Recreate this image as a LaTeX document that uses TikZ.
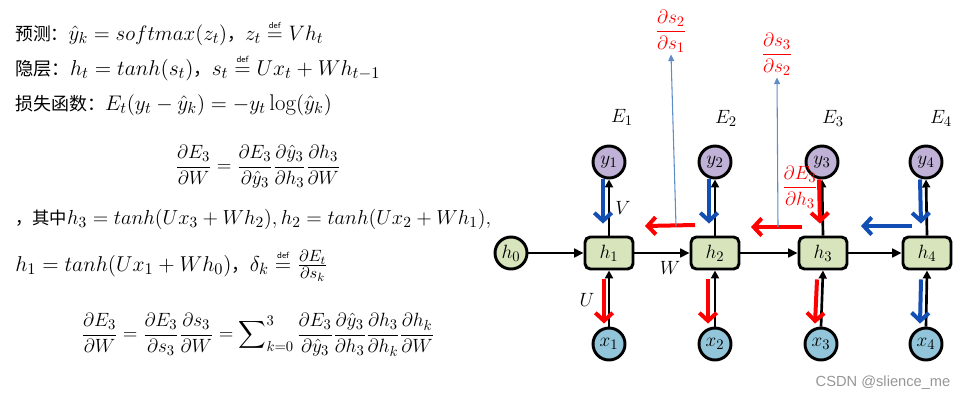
\documentclass[tikz,border=0pt]{standalone}
\usepackage{amsmath}
\usepackage{graphicx}
\usepackage{fontspec}
\newfontfamily\cjks[Scale=0.79]{Noto Sans CJK SC}
\newfontfamily\wmfont{Liberation Sans}
\usetikzlibrary{arrows.meta,calc}
\definecolor{ycol}{RGB}{191,178,214}
\definecolor{xcol}{RGB}{146,197,218}
\definecolor{hcol}{RGB}{215,228,188}
\definecolor{bblue}{RGB}{18,78,180}
\definecolor{thinb}{RGB}{95,140,198}
\definecolor{wmgray}{RGB}{150,150,150}
\newcommand{\dfeq}{\stackrel{\text{\sffamily\fontsize{6}{6}\selectfont def}}{=}}
\begin{document}
\begin{tikzpicture}[x=0.75pt,y=-0.75pt,
  txt/.style={font=\fontsize{15.5}{18}\selectfont, inner sep=0pt},
  ltxt/.style={font=\fontsize{15.5}{18}\selectfont, inner sep=0pt, anchor=base west},
  dtxt/.style={font=\fontsize{15}{18}\selectfont, inner sep=0pt},
  nodecirc/.style={circle, draw, line width=2.2pt, minimum size=24pt, inner sep=0pt, font=\fontsize{15}{15}\selectfont},
  ynode/.style={nodecirc, fill=ycol},
  xnode/.style={nodecirc, fill=xcol},
  hcirc/.style={nodecirc, fill=hcol},
  hbox/.style={rectangle, rounded corners=4pt, draw, line width=2.2pt, fill=hcol, minimum width=36pt, minimum height=24pt, inner sep=0pt, font=\fontsize{15}{15}\selectfont},
  fwd/.style={-{Triangle[length=7pt,width=6.5pt]}, line width=2pt, black},
  fwdv/.style={-{Triangle[length=6pt,width=6pt]}, line width=2pt, black},
  bk/.style={-{Straight Barb[length=6pt,width=13pt]}, line width=3pt},
  thinarr/.style={-{Triangle[length=5pt,width=4.5pt]}, line width=0.8pt, thinb},
  redlbl/.style={dtxt, text=red},
  wm/.style={font=\wmfont\fontsize{11}{13}\selectfont, text=wmgray, inner sep=0pt}
]
\useasboundingbox (0,0) rectangle (969,400);

% ---------- left formulas ----------
\node[ltxt] (l1) at (15,40) {\scalebox{1.09}{{\cjks 预测：}$\hat{y}_k = softmax(z_t)${\cjks ，}$z_t \dfeq Vh_t$}};
\node[ltxt] (l2) at (15,75) {\scalebox{1.12}{{\cjks 隐层：}$h_t = tanh(s_t)${\cjks ，}$s_t \dfeq Ux_t + Wh_{t-1}$}};
\node[ltxt] (l3) at (15,110) {\scalebox{1.1}{{\cjks 损失函数：}$E_t(y_t - \hat{y}_k) = -y_t\log(\hat{y}_k)$}};
\node[txt] (eq1) at (258,167) {$\dfrac{\partial E_3}{\partial W} = \dfrac{\partial E_3}{\partial \hat{y}_3}\dfrac{\partial \hat{y}_3}{\partial h_3}\dfrac{\partial h_3}{\partial W}$};
\node[ltxt] (l4) at (15,224) {\scalebox{1.06}{{\cjks ，其中}$h_3 = tanh(Ux_3 + Wh_2), h_2 = tanh(Ux_2 + Wh_1),$}};
\node[ltxt] (l5) at (15,271) {\scalebox{1.12}{$h_1 = tanh(Ux_1 + Wh_0)${\cjks ，}$\delta_k \dfeq \frac{\partial E_t}{\partial s_k}$}};
\node[txt] (eq3) at (258,335) {$\displaystyle\frac{\partial E_3}{\partial W} = \frac{\partial E_3}{\partial s_3}\frac{\partial s_3}{\partial W} = \sum\nolimits_{k=0}^{3}\frac{\partial E_3}{\partial \hat{y}_3}\frac{\partial \hat{y}_3}{\partial h_3}\frac{\partial h_3}{\partial h_k}\frac{\partial h_k}{\partial W}$};

% ---------- network nodes ----------
\node[hcirc] (h0) at (511,253) {$h_0$};
\node[hbox] (h1) at (609,253) {$h_1$};
\node[hbox] (h2) at (715,253) {$h_2$};
\node[hbox] (h3) at (823,253) {$h_3$};
\node[hbox] (h4) at (927,253) {$h_4$};
\node[ynode] (y1) at (609,162) {$y_1$};
\node[ynode] (y2) at (715,162) {$y_2$};
\node[ynode] (y3) at (822,162) {$y_3$};
\node[ynode] (y4) at (926,162) {$y_4$};
\node[xnode] (x1) at (609,344) {$x_1$};
\node[xnode] (x2) at (715,344) {$x_2$};
\node[xnode] (x3) at (821,344) {$x_3$};
\node[xnode] (x4) at (926,344) {$x_4$};

% E labels
\node[dtxt] (E1) at (622,117) {$E_1$};
\node[dtxt] (E2) at (726,118) {$E_2$};
\node[dtxt] (E3) at (833,118) {$E_3$};
\node[dtxt] (E4) at (941,118) {$E_4$};

% weight labels
\node[dtxt] (V) at (623,208) {$V$};
\node[dtxt] (W) at (670,268) {$W$};
\node[dtxt] (U) at (587,300) {$U$};

% ---------- forward arrows ----------
\draw[fwd] (h0) -- (h1);
\draw[fwd] (h1) -- (h2);
\draw[fwd] (h2) -- (h3);
\draw[fwd] (h3) -- (h4);
\foreach \i in {1,2,3,4}{
  \draw[fwdv] (h\i.north) -- (y\i.south);
  \draw[fwdv] (x\i.north) -- (h\i.south);
}

% ---------- backward arrows ----------
\draw[bk,bblue] ($(y1.south)+(-6,0)$) -- ($(h1.north)+(-6,-12)$);
\draw[bk,bblue] ($(y2.south)+(-6,0)$) -- ($(h2.north)+(-6,-12)$);
\draw[bk,red]   ($(y3.south)+(-3,0)$) -- ($(h3.north)+(-3,-12)$);
\draw[bk,bblue] ($(y4.south)+(-6,0)$) -- ($(h4.north)+(-6,-12)$);
\draw[bk,red]   ($(h1.south)+(-5,9)$) -- ($(x1.north)+(-5,-3)$);
\draw[bk,red]   ($(h2.south)+(-7,9)$) -- ($(x2.north)+(-7,-3)$);
\draw[bk,red]   ($(h3.south)+(-6,9)$) -- ($(x3.north)+(-6,-3)$);
\draw[bk,bblue] ($(h4.south)+(-6,9)$) -- ($(x4.north)+(-6,-3)$);

\coordinate (r1s) at (695,225);
\coordinate (r1e) at (645,226);
\coordinate (r2s) at (802,227);
\coordinate (r2e) at (751,227);
\coordinate (b3s) at (912,226);
\coordinate (b3e) at (861,226);
\draw[bk,red] (r1s) -- (r1e);
\draw[bk,red] (r2s) -- (r2e);
\draw[bk,bblue] (b3s) -- (b3e);

% thin arrows and red derivative labels
\node[redlbl] (d21) at (671,31) {$\dfrac{\partial s_2}{\partial s_1}$};
\node[redlbl] (d32) at (777,54) {$\dfrac{\partial s_3}{\partial s_2}$};
\coordinate (t1) at (676,226);
\coordinate (t2) at (778,227);
\draw[thinarr] (t1) -- ($(d21.south)+(0,2)$);
\draw[thinarr] (t2) -- ($(d32.south)+(0,2)$);
\node[redlbl] (dEh) at (800,187) {$\dfrac{\partial E_3}{\partial h_3}$};

% watermark
\node[wm] (mark) at (883,383) {CSDN @slience\_me};
\end{tikzpicture}
\end{document}
